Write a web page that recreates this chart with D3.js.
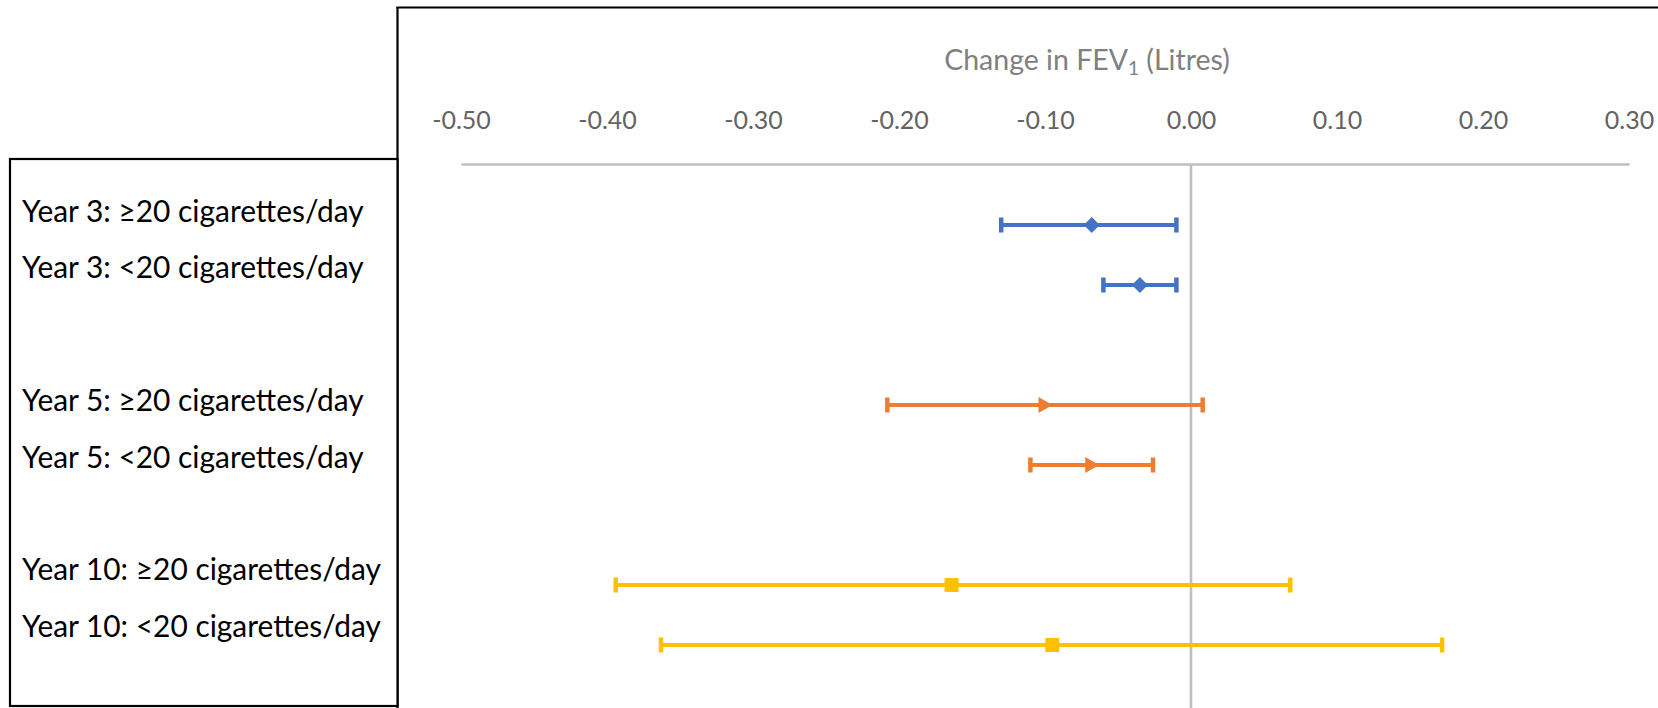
<!DOCTYPE html>
<html>
<head>
<meta charset="utf-8">
<script src="https://cdn.jsdelivr.net/npm/d3@7/dist/d3.min.js"></script>
<style>
  html, body { margin: 0; padding: 0; background: #fff; }
  svg { display: block; }
</style>
</head>
<body>
<svg id="chart" width="1658" height="708"></svg>
<script>
// ---- data ----
const categories = [
  "Year 3: ≥20 cigarettes/day",
  "Year 3: <20 cigarettes/day",
  "Year 5: ≥20 cigarettes/day",
  "Year 5: <20 cigarettes/day",
  "Year 10: ≥20 cigarettes/day",
  "Year 10: <20 cigarettes/day"
];
const groups   = ["Year 3", "Year 3", "Year 5", "Year 5", "Year 10", "Year 10"];
const yPos     = [8, 7, 5, 4, 2, 1];
const estimate = [-0.068, -0.035, -0.100, -0.068, -0.164, -0.095];
const lower    = [-0.130, -0.060, -0.208, -0.110, -0.394, -0.363];
const upper    = [-0.010, -0.010,  0.008, -0.026,  0.068,  0.172];
const tickValues = [-0.5, -0.4, -0.3, -0.2, -0.1, 0.0, 0.1, 0.2, 0.3];
const tickLabels = ["-0.50", "-0.40", "-0.30", "-0.20", "-0.10", "0.00", "0.10", "0.20", "0.30"];
const groupNames  = ["Year 3", "Year 5", "Year 10"];
const groupColors = ["#4472C4", "#ED7D31", "#FFC000"];
const groupMarkers = ["diamond", "triangle", "square"];

// ---- layout ----
const W = 1658, H = 708;
const FONT = "Lato, 'Open Sans', sans-serif";
const plot = { left: 461, right: 1629, axisY: 164, top: 165, bottom: 705 };
const labelBaselines = [222, 278, 411, 468, 580, 637];

const svg = d3.select("#chart");

const x = d3.scaleLinear().domain([-0.5, 0.3]).range([plot.left, plot.right]);
const y = d3.scaleLinear().domain([9, 0]).range([plot.top, plot.bottom]);
const color = d3.scaleOrdinal().domain(groupNames).range(groupColors);
const markerOf = d3.scaleOrdinal().domain(groupNames).range(groupMarkers);

// outer chart box (left + top border)
svg.append("line").attr("x1", 397.5).attr("x2", 397.5).attr("y1", 7).attr("y2", H)
  .attr("stroke", "#000").attr("stroke-width", 2.2);
svg.append("line").attr("x1", 396.5).attr("x2", W).attr("y1", 7.5).attr("y2", 7.5)
  .attr("stroke", "#000").attr("stroke-width", 2.2);

// left label text box
svg.append("rect").attr("x", 10).attr("y", 159).attr("width", 387.5).attr("height", 547)
  .attr("fill", "#fff").attr("stroke", "#000").attr("stroke-width", 2.2);

svg.append("g").selectAll("text").data(categories).join("text")
  .attr("x", 22)
  .attr("y", (d, i) => labelBaselines[i])
  .attr("font-family", FONT)
  .attr("font-size", 29.9)
  .attr("fill", "#000")
  .text(d => d);

// zero reference line (vertical axis)
svg.append("line")
  .attr("x1", x(0)).attr("x2", x(0))
  .attr("y1", plot.axisY).attr("y2", H)
  .attr("stroke", "#BFBFBF").attr("stroke-width", 2.6);

// x axis on top
const xAxis = d3.axisTop(x)
  .tickValues(tickValues)
  .tickFormat((d, i) => tickLabels[i])
  .tickSize(0)
  .tickPadding(35);

const gx = svg.append("g").attr("transform", `translate(0,${plot.axisY})`).call(xAxis);
gx.select(".domain").attr("stroke", "#BFBFBF").attr("stroke-width", 2.6);
gx.selectAll("text")
  .attr("font-family", FONT)
  .attr("font-size", 25)
  .attr("fill", "#636363");

// axis title
const title = svg.append("text")
  .attr("x", 1087).attr("y", 70)
  .attr("text-anchor", "middle")
  .attr("font-family", FONT)
  .attr("font-size", 28.5)
  .attr("fill", "#808080");
title.append("tspan").text("Change in FEV");
title.append("tspan").attr("font-size", 19).attr("dy", 5).text("1");
title.append("tspan").attr("dy", -5).text(" (Litres)");

// error bars
const rows = categories.map((c, i) => ({
  cat: c, group: groups[i], y: yPos[i], est: estimate[i], lo: lower[i], hi: upper[i]
}));

const g = svg.append("g");
const capH = 15;

rows.forEach(r => {
  const col = color(r.group);
  const yy = y(r.y);
  g.append("line")
    .attr("x1", x(r.lo)).attr("x2", x(r.hi))
    .attr("y1", yy).attr("y2", yy)
    .attr("stroke", col).attr("stroke-width", 4);
  [r.lo, r.hi].forEach(v => {
    g.append("line")
      .attr("x1", x(v)).attr("x2", x(v))
      .attr("y1", yy - capH / 2).attr("y2", yy + capH / 2)
      .attr("stroke", col).attr("stroke-width", 4.5);
  });
  const m = markerOf(r.group);
  const cx = x(r.est);
  let path;
  if (m === "diamond") {
    path = `M${cx},${yy - 8} L${cx + 8},${yy} L${cx},${yy + 8} L${cx - 8},${yy} Z`;
  } else if (m === "triangle") {
    path = `M${cx - 6.5},${yy - 8} L${cx + 7.5},${yy} L${cx - 6.5},${yy + 8} Z`;
  } else {
    path = `M${cx - 7},${yy - 7} h14 v14 h-14 Z`;
  }
  g.append("path").attr("d", path).attr("fill", col);
});
</script>
</body>
</html>
